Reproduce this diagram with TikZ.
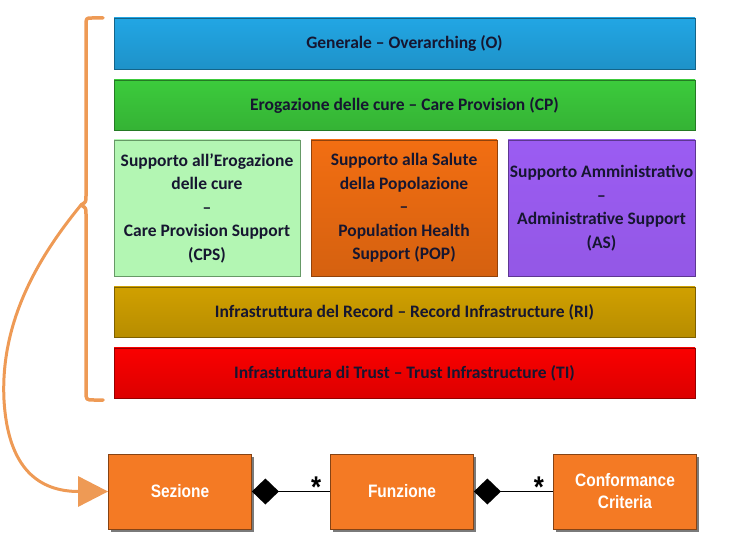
\documentclass[tikz,border=0pt]{standalone}
\usepackage{fontspec}
\setmainfont{Carlito}
\newfontfamily\umlfont{Liberation Sans}[FakeStretch=0.86]
\usetikzlibrary{arrows.meta, shadows}

\definecolor{bracecol}{HTML}{EE9A55}
\definecolor{umlorange}{HTML}{F47A24}
\definecolor{inkcol}{HTML}{161630}
\definecolor{blueO}{HTML}{22A6E4}
\definecolor{greenCP}{HTML}{3CCB3C}
\definecolor{greenCPS}{HTML}{B3F6B3}
\definecolor{orangePOP}{HTML}{F26E12}
\definecolor{violetAS}{HTML}{9B5CF2}
\definecolor{goldRI}{HTML}{D0A000}
\definecolor{redTI}{HTML}{FA0000}

\tikzset{
  layer/.style={draw=#1!60!black, line width=0.8pt, inner sep=0pt, align=center,
    top color=#1, bottom color=#1!88!black,
    font=\bfseries\fontsize{17.5}{23.5}\selectfont, text=inkcol},
  umlbox/.style={draw=umlorange!55!black, line width=0.8pt, fill=umlorange, inner sep=0pt,
    minimum width=143pt, minimum height=75pt, align=center, text=white,
    font=\umlfont\bfseries\fontsize{18}{22}\selectfont,
    drop shadow={shadow xshift=2.5pt, shadow yshift=-2.5pt, fill=black!65, opacity=0.8}},
  compose/.style={line width=1.6pt, {Diamond[length=27pt,width=26pt]}-},
  mult/.style={font=\umlfont\bfseries\fontsize{30}{30}\selectfont, inner sep=0pt}
}

\begin{document}
\begin{tikzpicture}[x=1pt, y=-1pt]
\useasboundingbox (0,0) rectangle (737,548);

% functional profile layers
\node[layer=blueO, minimum width=581pt, minimum height=51pt] (O) at (404.5,43.5) {Generale -- Overarching (O)};
\node[layer=greenCP, minimum width=581pt, minimum height=50pt] (CP) at (404.5,105) {Erogazione delle cure -- Care Provision (CP)};
\node[layer=greenCPS, bottom color=greenCPS, draw=gray!80!green, minimum width=186pt, minimum height=136pt] (CPS) at (207,208) {Supporto all’Erogazione\\delle cure\\--\\Care Provision Support\\(CPS)};
\node[layer=orangePOP, minimum width=186pt, minimum height=136pt] (POP) at (404,208) {Supporto alla Salute\\della Popolazione\\--\\Population Health\\Support (POP)};
\node[layer=violetAS, bottom color=violetAS!95!black, minimum width=187pt, minimum height=136pt] (AS) at (601.5,208) {Supporto Amministrativo\\--\\Administrative Support\\(AS)};
\node[layer=goldRI, minimum width=581pt, minimum height=50pt] (RI) at (404.5,312) {Infrastruttura del Record -- Record Infrastructure (RI)};
\node[layer=redTI, minimum width=581pt, minimum height=50pt] (TI) at (404.5,373) {Infrastruttura di Trust -- Trust Infrastructure (TI)};

% brace
\coordinate (bracetop) at (103,18);
\coordinate (bracetip) at (81,205);
\coordinate (bracebot) at (103,400);
\draw[bracecol, line width=3.5pt, line cap=round, line join=round]
  (bracetop) -- (92,18) .. controls (86,18) .. (86,26) -- (86,196) .. controls (86,202) .. (bracetip)
  (bracetip) .. controls (86,208) .. (86,214) -- (86,391) .. controls (86,400) .. (94,400) -- (bracebot);

% sections - functions - criteria
\node[umlbox] (sez) at (180,491.5) {Sezione};
\node[umlbox] (fun) at (402,491.5) {Funzione};
\node[umlbox] (cc) at (625,491.5) {Conformance\\Criteria};

\draw[compose] (sez) -- node[mult, pos=0.82, above=-7pt] {*} (fun);
\draw[compose] (fun) -- node[mult, pos=0.82, above=-7pt] {*} (cc);

\draw[bracecol, line width=3pt, -{Triangle[length=30pt,width=30pt]}]
  (bracetip) .. controls (40,255) and (0,320) .. (4,400) .. controls (8,470) and (40,491.5) .. (sez.west);
\end{tikzpicture}
\end{document}
